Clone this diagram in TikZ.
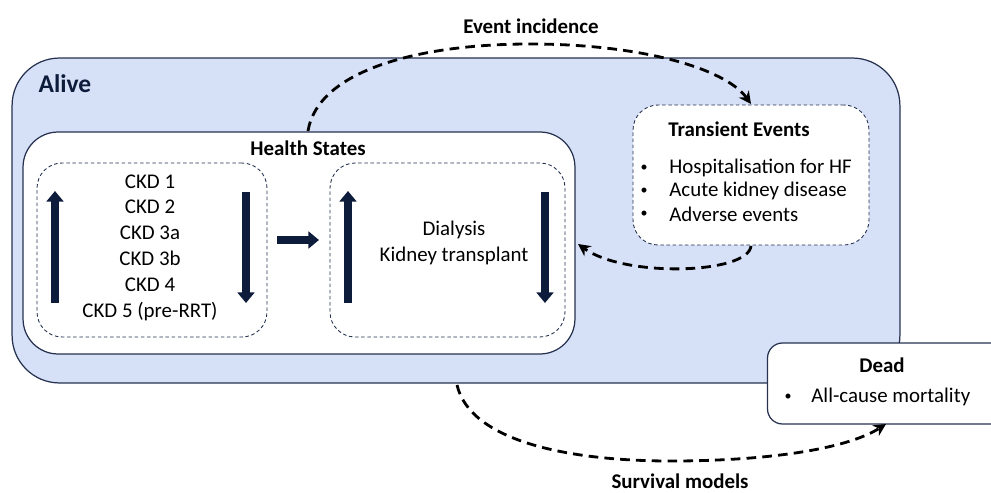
\documentclass[tikz,border=0pt]{standalone}
\usepackage{fontspec}
\setmainfont{Carlito}
\usetikzlibrary{arrows.meta}
\definecolor{alivefill}{RGB}{214,224,246}
\definecolor{navy}{RGB}{14,28,60}
\definecolor{edgecol}{RGB}{38,50,80}
\begin{document}
\begin{tikzpicture}[x=0.02cm,y=-0.02cm,
  box/.style={draw=edgecol,line width=0.7pt,inner sep=0pt},
  dbox/.style={draw=edgecol,line width=0.5pt,dash pattern=on 2pt off 1.5pt,fill=white,inner sep=0pt,rounded corners=0.5cm},
  txt/.style={font=\fontsize{11.9}{14.7}\selectfont,inner sep=0pt},
  btxt/.style={font=\fontsize{11.9}{14.7}\selectfont\bfseries,inner sep=0pt},
  bul/.style={font=\fontsize{8}{10}\selectfont,inner sep=0pt},
  blockarrow/.style={draw=navy,line width=5pt,-{Triangle[length=6pt,width=9.5pt]}},
  flow/.style={draw=black,line width=1.6pt,dash pattern=on 5.5pt off 3.5pt,-{Stealth[length=7pt,width=7pt]}}]
\clip (0,0) rectangle (991,493);
\fill[white] (0,0) rectangle (991,493);
% containers
\node[box,fill=alivefill,rounded corners=0.95cm,minimum width=17.76cm,minimum height=6.5cm] (alive) at (456,220.5) {};
\node[box,fill=white,rounded corners=0.7cm,minimum width=11.04cm,minimum height=4.44cm] (health) at (299,243) {};
\node[dbox,minimum width=4.6cm,minimum height=3.48cm] (ckdbox) at (152,250) {};
\node[dbox,minimum width=4.7cm,minimum height=3.48cm] (rrtbox) at (447.5,250) {};
\node[dbox,minimum width=4.72cm,minimum height=2.8cm] (trans) at (751,175) {};
\node[box,fill=white,rounded corners=0.3cm,minimum width=4.9cm,minimum height=1.62cm] (dead) at (890,383.5) {};
% texts
\node[font=\fontsize{14.5}{16}\selectfont\bfseries,text=navy,inner sep=0pt] (alivelbl) at (65,84) {Alive};
\node[btxt] (hslbl) at (308,148) {Health States};
\node[txt,align=center] (ckdlist) at (150,247.5) {CKD 1\\CKD 2\\CKD 3a\\CKD 3b\\CKD 4\\CKD 5 (pre-RRT)};
\node[txt,align=center] (rrtlist) at (454,243) {Dialysis\\Kidney transplant};
\node[btxt] (translbl) at (739,129) {Transient Events};
\node[bul] (b1) at (644,168) {\textbullet};
\node[bul] (b2) at (644,191) {\textbullet};
\node[bul] (b3) at (644,214) {\textbullet};
\node[txt,anchor=west] (t1) at (669,168) {Hospitalisation for HF};
\node[txt,anchor=west] (t2) at (669,191) {Acute kidney disease};
\node[txt,anchor=west] (t3) at (669,214) {Adverse events};
\node[btxt] (deadlbl) at (882,365) {Dead};
\node[bul] (b4) at (788,397) {\textbullet};
\node[txt,anchor=west] (t4) at (811,397) {All-cause mortality};
\node[btxt] (evlbl) at (531,26) {Event incidence};
\node[btxt] (svlbl) at (680,481) {Survival models};
% block arrows
\coordinate (a1s) at (55,303); \coordinate (a1e) at (55,191);
\coordinate (a2s) at (246,192); \coordinate (a2e) at (246,303);
\coordinate (a3s) at (348,303); \coordinate (a3e) at (348,191);
\coordinate (a4s) at (545,192); \coordinate (a4e) at (545,303);
\coordinate (a5s) at (277,240); \coordinate (a5e) at (319,240);
\draw[blockarrow] (a1s) -- (a1e);
\draw[blockarrow] (a2s) -- (a2e);
\draw[blockarrow] (a3s) -- (a3e);
\draw[blockarrow] (a4s) -- (a4e);
\draw[blockarrow] (a5s) -- (a5e);
% dashed flows
\coordinate (ev1) at (308,131);
\coordinate (ev2) at (751,104);
\coordinate (ev3) at (751,246);
\coordinate (ev4) at (578,244);
\coordinate (sv1) at (457,385);
\coordinate (sv2) at (886,424);
\draw[flow] (ev1) .. controls (318,70) and (420,44) .. (530,44) .. controls (640,44) and (725,68) .. (ev2);
\draw[flow] (ev3) .. controls (748,274) and (625,278) .. (ev4);
\draw[flow] (sv1) .. controls (470,440) and (565,462) .. (680,461) .. controls (780,460) and (850,447) .. (sv2);
\end{tikzpicture}
\end{document}
